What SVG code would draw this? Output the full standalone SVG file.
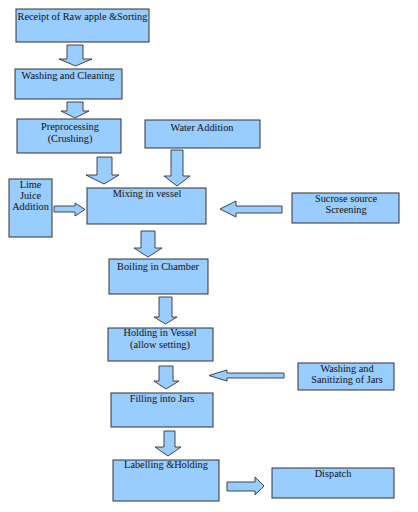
<svg xmlns="http://www.w3.org/2000/svg" width="418" height="512" viewBox="0 0 418 512">
<style>
.box{fill:#99ccff;stroke:#333;stroke-width:1}
.arr{fill:#99ccff;stroke:#333;stroke-width:0.9;stroke-linejoin:miter}
text{font-family:"Liberation Serif","Times New Roman",serif;font-size:10.3px;fill:#111;text-anchor:middle}
</style>
<rect width="418" height="512" fill="#fff"/>
<g id="n-receipt"><rect class="box" x="16" y="9" width="133" height="33"/><text x="82.5" y="20">Receipt of Raw apple &amp;Sorting</text></g>
<g id="n-washing"><rect class="box" x="15" y="69" width="107" height="30"/><text x="68" y="79">Washing and Cleaning</text></g>
<g id="n-preproc"><rect class="box" x="17" y="119" width="104" height="34"/><text x="70" y="130">Preprocessing</text><text x="70" y="142">(Crushing)</text></g>
<g id="n-water"><rect class="box" x="145" y="120" width="115" height="28"/><text x="202" y="131">Water Addition</text></g>
<g id="n-lime"><rect class="box" x="9" y="179" width="43" height="58"/><text x="30.5" y="188">Lime</text><text x="30.5" y="199">Juice</text><text x="30.5" y="210">Addition</text></g>
<g id="n-mixing"><rect class="box" x="87" y="188" width="119" height="36"/><text x="147" y="197">Mixing in vessel</text></g>
<g id="n-sucrose"><rect class="box" x="292" y="193" width="107" height="30"/><text x="346" y="202">Sucrose source</text><text x="346" y="213">Screening</text></g>
<g id="n-boiling"><rect class="box" x="109" y="259" width="99" height="35"/><text x="158" y="270">Boiling in Chamber</text></g>
<g id="n-holding"><rect class="box" x="108" y="328" width="105" height="33"/><text x="160" y="336">Holding in Vessel</text><text x="160" y="348">(allow setting)</text></g>
<g id="n-sanitize"><rect class="box" x="298" y="363" width="96" height="27"/><text x="347" y="372">Washing and</text><text x="347" y="383">Sanitizing of Jars</text></g>
<g id="n-filling"><rect class="box" x="111" y="393" width="102" height="34"/><text x="162" y="402">Filling into Jars</text></g>
<g id="n-labelling"><rect class="box" x="113" y="460" width="106" height="41"/><text x="166" y="468">Labelling &amp;Holding</text></g>
<g id="n-dispatch"><rect class="box" x="272" y="468" width="122" height="30"/><text x="333" y="477">Dispatch</text></g>
<g id="connectors">
<polygon class="arr" points="67,45 83,45 83,59 92,59 75.5,66 59,59 67,59"/>
<polygon class="arr" points="67,102 83,102 83,111 89,111 75,118 61,111 67,111"/>
<polygon class="arr" points="97,157 112,157 112,175 119,175 104,184 86,175 97,175"/>
<polygon class="arr" points="171,150 183,150 183,176 190,176 177,186 164,176 171,176"/>
<polygon class="arr" points="54,206 75,206 75,203 85,209.5 75,216 75,212 54,212"/>
<polygon class="arr" points="282,206 236,206 236,201 220,209 236,217 236,213 282,213"/>
<polygon class="arr" points="141,231 155,231 155,248 162,248 148,257 134,248 141,248"/>
<polygon class="arr" points="159,297 172,297 172,317 177,317 165.5,324 154,317 159,317"/>
<polygon class="arr" points="159,366 173,366 173,381 179,381 166,389 154,381 159,381"/>
<polygon class="arr" points="284,373 227,373 227,370 209,375.5 227,381 227,378 284,378"/>
<polygon class="arr" points="164,431 175,431 175,447 181,447 168,456 155,447 164,447"/>
<polygon class="arr" points="227,482 255,482 255,477 264,486 255,495 255,491 227,491"/>
</g>
</svg>
